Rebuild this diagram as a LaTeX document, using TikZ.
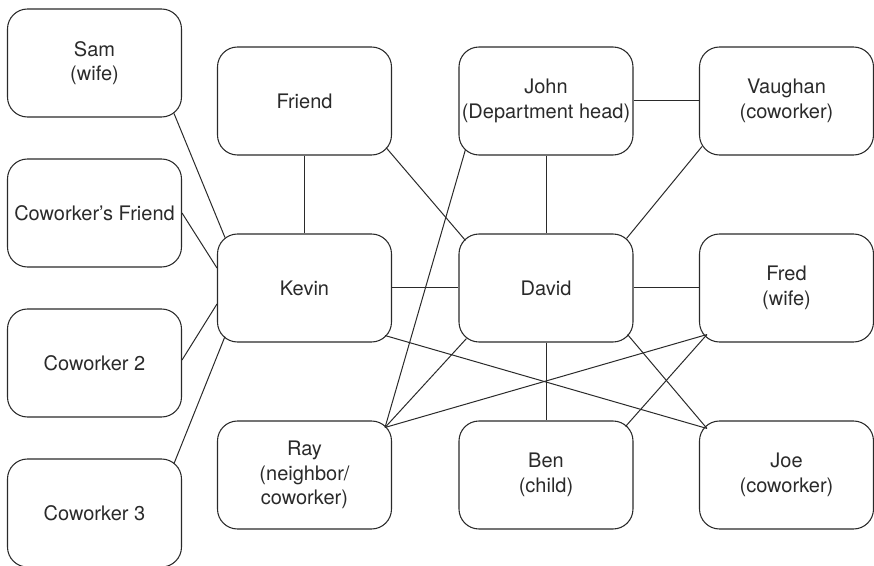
\documentclass[tikz,border=0pt]{standalone}
\usepackage{fontspec}
\setmainfont{TeX Gyre Heros}
\definecolor{ink}{HTML}{2A2A2A}
\begin{document}
\begin{tikzpicture}[x=0.75pt,y=-0.75pt,
  person/.style={draw=ink,line width=0.8pt,rounded corners=15pt,
    minimum width=130.5pt,minimum height=81pt,align=center,
    text=ink,font=\fontsize{15}{18.5}\selectfont,inner sep=2pt},
  link/.style={draw=ink,line width=0.75pt}]
\useasboundingbox (0,0) rectangle (874,566);

% left column
\node[person] (sam) at (94.5,63) {Sam\\(wife)};
\node[person] (cwf) at (94.5,213) {Coworker’s Friend};
\node[person] (cw2) at (94.5,363) {Coworker 2};
\node[person] (cw3) at (94.5,513) {Coworker 3};
% second column
\node[person] (friend) at (304.5,101) {Friend};
\node[person] (kevin) at (304.5,288) {Kevin};
\node[person] (ray) at (304.5,475) {Ray\\(neighbor/\\coworker)};
% third column
\node[person] (john) at (546,101) {John\\(Department head)};
\node[person] (david) at (546,288) {David};
\node[person] (ben) at (546,475) {Ben\\(child)};
% right column
\node[person] (vaughan) at (786.5,101) {Vaughan\\(coworker)};
\node[person] (fred) at (786.5,288) {Fred\\(wife)};
\node[person] (joe) at (786.5,475) {Joe\\(coworker)};

% shared points on rounded corners
\coordinate (rayc) at ([shift={(-7,7)}]ray.north east);
\coordinate (joec) at ([shift={(8,8)}]joe.north west);
\coordinate (fredc) at ([shift={(8,-8)}]fred.south west);

% Kevin's ties
\draw[link] ([shift={(-8,-4)}]sam.south east) -- ([shift={(8,4)}]kevin.north west);
\draw[link] (cwf.east) -- ([shift={(0,-20)}]kevin.west);
\draw[link] ([shift={(0,-3)}]cw2.east) -- ([shift={(0,16)}]kevin.west);
\draw[link] ([shift={(-8,5)}]cw3.north east) -- ([shift={(8,-6)}]kevin.south west);
\draw[link] (friend.south) -- (kevin.north);
\draw[link] (kevin.east) -- (david.west);
\draw[link] ([shift={(-7,-7)}]kevin.south east) -- (joec);

% David's ties
\draw[link] ([shift={(-6,-8)}]friend.south east) -- ([shift={(7,7)}]david.north west);
\draw[link] (john.south) -- (david.north);
\draw[link] ([shift={(3,-9)}]vaughan.south west) -- ([shift={(-7,5)}]david.north east);
\draw[link] (david.east) -- (fred.west);
\draw[link] (david.south) -- (ben.north);
\draw[link] ([shift={(8,-4)}]david.south west) -- (rayc);
\draw[link] ([shift={(-6,-8)}]david.south east) -- (joec);

% other ties
\draw[link] (john.east) -- (vaughan.west);
\draw[link] ([shift={(7,-6)}]john.south west) -- (rayc);
\draw[link] (rayc) -- (fredc);
\draw[link] ([shift={(-8,6)}]ben.north east) -- (fredc);
\end{tikzpicture}
\end{document}
